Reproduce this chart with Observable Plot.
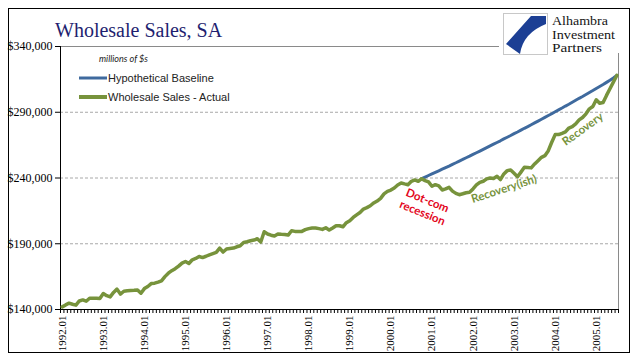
<!DOCTYPE html>
<html><head><meta charset="utf-8">
<script src="https://cdn.jsdelivr.net/npm/d3@7"></script>
<script src="https://cdn.jsdelivr.net/npm/@observablehq/plot@0.6"></script>
<style>
body{margin:0;background:#fff;}
#wrap{position:relative;width:641px;height:358px;overflow:hidden;background:#fff;}
#wrap svg{position:absolute;left:0;top:0;}
</style>
</head><body>
<div id="wrap"></div>
<script>
// Monthly wholesale sales, SA (millions of $), 1992.01 - 2005.07
const actual = [
142000,143500,144800,144000,143300,146500,147300,146300,148600,148500,
148500,148300,152100,150500,149600,153000,155500,151700,153900,154200,
154400,154600,154900,152400,155900,157500,159700,160000,160800,161800,
165000,167600,169500,171000,173000,175300,176500,175000,177800,178800,
180300,179500,180500,181600,182500,183400,186700,183700,186000,186400,
186700,187700,188500,191000,191500,192300,192800,193800,191300,199100,
197400,196500,195900,197400,197200,197100,196600,199900,199400,199400,
199400,200700,201500,202000,202000,201500,200900,202200,200400,202000,
203700,203700,202900,206000,207500,210000,212000,213800,216400,217500,
218900,221000,222500,224500,227900,229800,230800,232400,234700,236200,
235500,234900,237500,238500,237500,239500,238000,237000,233700,234900,
234000,230900,231700,232900,230000,228300,227300,228000,228800,229100,
231700,234700,236700,237500,239300,240000,239700,241300,238800,243100,
245600,246100,243600,241000,244500,248100,248000,247700,250700,253200,
255700,257000,260800,267200,273000,273000,274000,275100,278000,279100,
281200,284200,286000,288800,292600,294400,299500,296900,297400,302800,
307900,312900,318000
];
// Hypothetical baseline, starting 2000.10
const baselineStart = "2000.10";
const baseline = [
239500,240700,241900,243100,244300,245500,246700,247900,249100,250400,
251600,252900,254100,255400,256600,257900,259200,260500,261800,263100,
264400,265700,267000,268300,269700,271000,272300,273700,275000,276400,
277800,279100,280500,281900,283300,284700,286100,287500,288900,290400,
291800,293200,294700,296100,297600,299100,300600,302000,303500,305000,
306500,308100,309600,311100,312700,314300,316000,318000
];
const tickLabels = ["1992.01","1993.01","1994.01","1995.01","1996.01","1997.01","1998.01",
  "1999.01","2000.01","2001.01","2002.01","2003.01","2004.01","2005.01"];
const yTicks = [140000,190000,240000,290000,340000];
const gridValues = [190000,240000,290000];
const notes = [
  {text:"Dot-com\nrecession", month:"2000.11", v:218500, rotate:22, color:"#e3061b"},
  {text:"Recovery(ish)", month:"2002.10", v:232000, rotate:-18, color:"#77933c"},
  {text:"Recovery", month:"2004.09", v:277500, rotate:-36, color:"#77933c"}
];

const months = actual.map((_, i) => `${1992 + Math.floor(i/12)}.${String(i%12+1).padStart(2,"0")}`);
const idx = m => months.indexOf(m);
const actualData = actual.map((v, i) => ({i, v}));
const b0 = idx(baselineStart);
const baseData = baseline.map((v, k) => ({i: b0 + k, v}));
const boundaries = d3.range(actual.length + 1).map(i => i - 0.5);
const labelIdx = tickLabels.map(idx);

const green = "#77933c", blue = "#3f6a9e";

const chart = Plot.plot({
  width: 641, height: 358,
  marginLeft: 60, marginRight: 23, marginTop: 46, marginBottom: 49,
  style: {fontFamily: "Liberation Serif", fontSize: "12px", color: "#000", background: "transparent", overflow: "visible"},
  x: {domain: [-0.5, actual.length - 0.5], label: null},
  y: {domain: [140000, 340000], label: null},
  marks: [
    Plot.ruleY(gridValues, {stroke: "#a8a8a8", strokeDasharray: "3,2"}),
    Plot.frame({stroke: "#8a8a8a"}),
    Plot.ruleY([140000], {stroke: "#000"}),
    Plot.ruleX([-0.5], {stroke: "#000"}),
    Plot.axisY(yTicks, {tickSize: 5, tickPadding: 3, fontSize: 12, label: null,
      tickFormat: d => "$" + d3.format(",")(d)}),
    Plot.axisX(boundaries, {tickSize: 4, tickFormat: () => "", label: null}),
    Plot.axisX(labelIdx, {tickSize: 0, tickPadding: 6, tickRotate: -90, fontSize: 11, label: null,
      tickFormat: i => months[i]}),
    Plot.line(baseData, {x: "i", y: "v", stroke: blue, strokeWidth: 3, strokeLinejoin: "round"}),
    Plot.line(actualData, {x: "i", y: "v", stroke: green, strokeWidth: 3.5, strokeLinejoin: "round"}),
    ...notes.map(n => Plot.text([n], {x: d => idx(d.month), y: "v", text: "text", rotate: n.rotate,
      fill: n.color, fontFamily: "Lato", fontWeight: "bold", fontSize: 11.5, lineHeight: 1.15}))
  ]
});
const wrap = document.getElementById("wrap");
wrap.appendChild(chart);

const ns = "http://www.w3.org/2000/svg";
const ov = document.createElementNS(ns, "svg");
ov.setAttribute("width", 641); ov.setAttribute("height", 358);
ov.innerHTML = `
<rect x="8.5" y="8.5" width="621" height="344" fill="none" stroke="#000" stroke-width="1"/>
<text x="55" y="37" font-family="Liberation Serif" font-size="20" fill="#1f1f70">Wholesale Sales, SA</text>
<rect x="499" y="10" width="129" height="43" fill="#fff"/>
<rect x="503.5" y="13.5" width="44" height="41" fill="#fff" stroke="#c8c8c8"/>
<path d="M546,16 L531,16 L506,44 L520,54 Q523,33 546,24 Z" fill="#1c3f94"/>
<g font-family="Liberation Serif" font-size="12" fill="#141414" lengthAdjust="spacingAndGlyphs">
<text x="552" y="25" textLength="56" lengthAdjust="spacingAndGlyphs">Alhambra</text>
<text x="552" y="38.5" textLength="63" lengthAdjust="spacingAndGlyphs">Investment</text>
<text x="552" y="52" textLength="50" lengthAdjust="spacingAndGlyphs">Partners</text>
</g>
<text x="99" y="62" font-family="Lato" font-style="italic" font-size="10" fill="#222" textLength="49" lengthAdjust="spacingAndGlyphs">millions of $s</text>
<line x1="79" y1="78" x2="107" y2="78" stroke="${blue}" stroke-width="3"/>
<text x="108" y="82" font-family="Liberation Sans" font-size="11" fill="#222">Hypothetical Baseline</text>
<line x1="79" y1="97" x2="107" y2="97" stroke="${green}" stroke-width="4"/>
<text x="108" y="101" font-family="Liberation Sans" font-size="11" fill="#222">Wholesale Sales - Actual</text>
`;
wrap.appendChild(ov);
</script>
</body></html>
